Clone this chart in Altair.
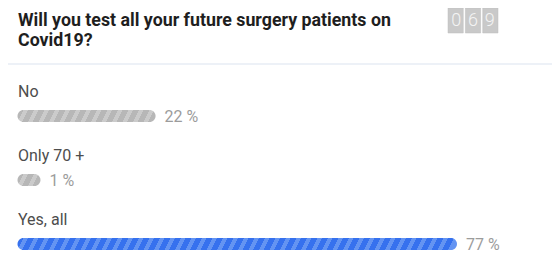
import altair as alt
import pandas as pd

# ---- data ----
title_lines = ["Will you test all your future surgery patients on", "Covid19?"]
categories = ["No", "Only 70 +", "Yes, all"]
percents = [22, 1, 77]
vote_digits = ["0", "6", "9"]

df = pd.DataFrame({
    "cat": categories,
    "pct": percents,
    "label": [f"{p} %" for p in percents],
})
digits_df = pd.DataFrame({"i": list(range(len(vote_digits))), "d": vote_digits})

# ---- style / layout ----
FONT = "Roboto"
X_DOMAIN = [0, 77]
X_RANGE = [27, 449]
BAR_START = 9.5
BAR_H = 12
bar_colors = {"No": ("#b7b7b7", "#cbcbcb"),
              "Only 70 +": ("#b7b7b7", "#cbcbcb"),
              "Yes, all": ("#3671ee", "#6494f2")}

xscale = alt.Scale(domain=X_DOMAIN, range=X_RANGE)
yscale = alt.Scale(type="point", domain=categories, range=[108, 236], padding=0)


def px_width(p):
    return X_RANGE[0] + (p - X_DOMAIN[0]) / (X_DOMAIN[1] - X_DOMAIN[0]) * (X_RANGE[1] - X_RANGE[0]) - BAR_START


def stripes(width, base, light, period=10.5, light_w=4.5, shear=6.0):
    b = shear / width
    norm = 1 + b * b
    pt = period / width / norm
    lw = light_w / width / norm
    stops = []
    o = 0.0
    while o < 1 - 1e-6:
        d_end = min(o + pt - lw, 1.0)
        stops.append(alt.GradientStop(offset=round(o, 5), color=base))
        stops.append(alt.GradientStop(offset=round(d_end, 5), color=base))
        if d_end < 1:
            l_end = min(o + pt, 1.0)
            stops.append(alt.GradientStop(offset=round(d_end, 5), color=light))
            stops.append(alt.GradientStop(offset=round(l_end, 5), color=light))
        o += pt
    return alt.LinearGradient(gradient="linear", stops=stops, x1=0, y1=0, x2=1, y2=b)


base = alt.Chart(df)

bar_layers = []
for c, p in zip(categories, percents):
    b0, b1 = bar_colors[c]
    bar_layers.append(
        base.transform_filter(alt.datum.cat == c)
        .mark_rect(height=BAR_H, cornerRadius=BAR_H / 2, fill=stripes(px_width(p), b0, b1))
        .encode(
            x=alt.X("pct:Q", scale=xscale, axis=None),
            x2=alt.value(BAR_START),
            y=alt.Y("cat:N", scale=yscale, axis=None),
        )
    )

cat_labels = base.mark_text(
    align="left", baseline="alphabetic", dy=-19, font=FONT, fontSize=16, color="#4d4d4d"
).encode(
    x=alt.value(10),
    y=alt.Y("cat:N", scale=yscale, axis=None),
    text="cat:N",
)

pct_labels = base.mark_text(
    align="left", baseline="alphabetic", dx=9, dy=6, font=FONT, fontSize=16, color="#9c9c9c"
).encode(
    x=alt.X("pct:Q", scale=xscale, axis=None),
    y=alt.Y("cat:N", scale=yscale, axis=None),
    text="label:N",
)

title = alt.Chart(pd.DataFrame({"t": ["\n".join(title_lines)]})).mark_text(
    align="left", baseline="alphabetic", lineBreak="\n", lineHeight=20,
    font=FONT, fontSize=17.8, fontWeight="bold", color="#1e1e1e"
).encode(x=alt.value(10), y=alt.value(18), text="t:N")

sep = alt.Chart(pd.DataFrame({"a": [0]})).mark_rule(color="#edf1f7", strokeWidth=2).encode(
    x=alt.value(0), x2=alt.value(544), y=alt.value(56)
)

dscale = alt.Scale(domain=list(range(len(vote_digits))), range=[440, 490], paddingInner=0.12, paddingOuter=0)
boxes = alt.Chart(digits_df).mark_bar(color="#c9c9c9", stroke="#bdbdbd", strokeWidth=0.5).encode(
    x=alt.X("i:O", scale=dscale, axis=None),
    y=alt.value(0), y2=alt.value(25),
)
digit_text = alt.Chart(digits_df).mark_text(
    font=FONT, fontSize=18, fontWeight=300, color="#f4f4f4", baseline="middle"
).encode(
    x=alt.X("i:O", scale=dscale, axis=None),
    y=alt.value(13),
    text="d:N",
)

chart = alt.layer(
    sep, title, boxes, digit_text, *bar_layers, cat_labels, pct_labels
).resolve_scale(x="independent", y="independent").properties(
    width=544, height=248, autosize=alt.AutoSizeParams(type="none"), padding=0
).configure_view(stroke=None)

chart.save("out.html", embed_options={"renderer": "svg", "actions": False})
